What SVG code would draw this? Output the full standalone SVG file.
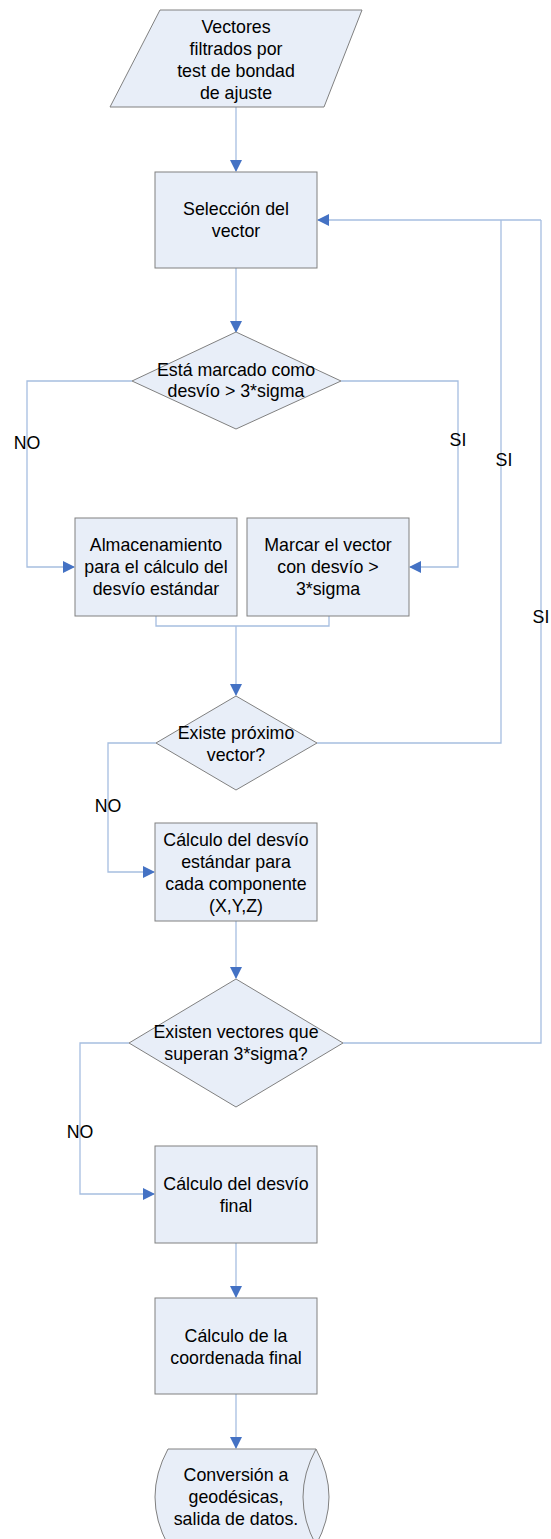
<svg xmlns="http://www.w3.org/2000/svg" width="551" height="1539" viewBox="0 0 551 1539">
<defs>
<style>
.n{fill:#E8EEF8;stroke:#808080;stroke-width:1}
.t{font-family:"Liberation Sans",Arial,sans-serif;font-size:17.8px;fill:#000;text-anchor:middle}
.c{fill:none;stroke:#A6BEE0;stroke-width:1.3}
.l{font-family:"Liberation Sans",Arial,sans-serif;font-size:17.8px;fill:#000;text-anchor:middle}
</style>
<marker id="a" markerWidth="12" markerHeight="12" refX="11" refY="6" orient="auto" markerUnits="userSpaceOnUse">
<path d="M0,0 L12,6 L0,12 Z" fill="#4472C4"/>
</marker>
</defs>
<rect width="551" height="1539" fill="#fff"/>
<g id="connectors">
<path class="c" d="M236,107 V171" marker-end="url(#a)"/>
<path class="c" d="M236,268 V332" marker-end="url(#a)"/>
<path class="c" d="M132,381 H27 V567 H74" marker-end="url(#a)"/>
<path class="c" d="M341,381 H458 V567 H410" marker-end="url(#a)"/>
<path class="c" d="M156,616 V626 H329 V616"/>
<path class="c" d="M236,626 V695" marker-end="url(#a)"/>
<path class="c" d="M317,743 H501 V220"/>
<path class="c" d="M541,220 H318" marker-end="url(#a)"/>
<path class="c" d="M156,743 H108 V872 H154" marker-end="url(#a)"/>
<path class="c" d="M236,921 V978" marker-end="url(#a)"/>
<path class="c" d="M343,1043 H541 V220"/>
<path class="c" d="M129,1043 H80 V1194 H154" marker-end="url(#a)"/>
<path class="c" d="M236,1243 V1297" marker-end="url(#a)"/>
<path class="c" d="M236,1394 V1448" marker-end="url(#a)"/>
<text class="l" x="27" y="449">NO</text>
<text class="l" x="458" y="446">SI</text>
<text class="l" x="504" y="466">SI</text>
<text class="l" x="108" y="812">NO</text>
<text class="l" x="541" y="623">SI</text>
<text class="l" x="80" y="1138">NO</text>
</g>
<g id="n1">
<polygon class="n" points="160,10 362,10 324,107 110,107"/>
<text class="t" x="236" y="33">Vectores</text>
<text class="t" x="236" y="55">filtrados por</text>
<text class="t" x="236" y="77">test de bondad</text>
<text class="t" x="236" y="99">de ajuste</text>
</g>
<g id="n2">
<rect class="n" x="155" y="172" width="162" height="96"/>
<text class="t" x="236" y="215">Selección del</text>
<text class="t" x="236" y="237">vector</text>
</g>
<g id="n3">
<polygon class="n" points="236,332 341,381 236,429 132,381"/>
<text class="t" x="236" y="376">Está marcado como</text>
<text class="t" x="236" y="397">desvío &gt; 3*sigma</text>
</g>
<g id="n4">
<rect class="n" x="75" y="518" width="162" height="98"/>
<text class="t" x="156" y="551">Almacenamiento</text>
<text class="t" x="156" y="573">para el cálculo del</text>
<text class="t" x="156" y="595">desvío estándar</text>
</g>
<g id="n5">
<rect class="n" x="247" y="518" width="162" height="98"/>
<text class="t" x="328" y="551">Marcar el vector</text>
<text class="t" x="328" y="573">con desvío &gt;</text>
<text class="t" x="328" y="595">3*sigma</text>
</g>
<g id="n6">
<polygon class="n" points="236,696 317,743 236,790 156,743"/>
<text class="t" x="236" y="739">Existe próximo</text>
<text class="t" x="236" y="761">vector?</text>
</g>
<g id="n7">
<rect class="n" x="155" y="823" width="162" height="98"/>
<text class="t" x="236" y="846">Cálculo del desvío</text>
<text class="t" x="236" y="868">estándar para</text>
<text class="t" x="236" y="890">cada componente</text>
<text class="t" x="236" y="912">(X,Y,Z)</text>
</g>
<g id="n8">
<polygon class="n" points="236,979 343,1043 236,1107 129,1043"/>
<text class="t" x="236" y="1038">Existen vectores que</text>
<text class="t" x="236" y="1060">superan 3*sigma?</text>
</g>
<g id="n9">
<rect class="n" x="155" y="1146" width="162" height="97"/>
<text class="t" x="236" y="1190">Cálculo del desvío</text>
<text class="t" x="236" y="1212">final</text>
</g>
<g id="n10">
<rect class="n" x="155" y="1298" width="162" height="96"/>
<text class="t" x="236" y="1342">Cálculo de la</text>
<text class="t" x="236" y="1364">coordenada final</text>
</g>
<g id="n11">
<path class="n" d="M168,1449 H316 Q342,1497 316,1545 H168 Q142,1497 168,1449 Z"/>
<path class="n" d="M316,1449 Q290,1497 316,1545" fill="none"/>
<text class="t" x="236" y="1481">Conversión a</text>
<text class="t" x="236" y="1503">geodésicas,</text>
<text class="t" x="236" y="1525">salida de datos.</text>
</g>
</svg>
